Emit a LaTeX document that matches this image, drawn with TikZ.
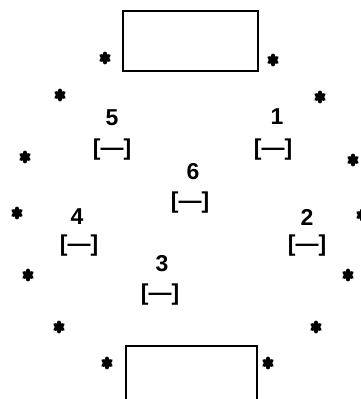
\documentclass[tikz,border=0pt]{standalone}
\usepackage{fontspec}
\setmainfont{Liberation Sans}
\begin{document}
\begin{tikzpicture}[x=1pt,y=-1pt,
  box/.style={draw,line width=2.2pt,inner sep=0pt},
  num/.style={font=\bfseries\fontsize{23}{23}\selectfont,inner sep=0pt},
  brk/.style={font=\bfseries\fontsize{23}{23}\selectfont,inner sep=0pt},
  astr/.pic={\foreach \a in {90,150,210}{\draw[line width=3.6pt,line cap=round] (\a:4.6) -- (\a+180:4.6);}}
]
\useasboundingbox (0,0) rectangle (361,399);
% boxes
\node[box,minimum width=135pt,minimum height=60pt] (top) at (190.5,41) {};
\node[box,minimum width=131pt,minimum height=70pt] (bot) at (191.5,381) {};
% asterisks
\foreach \x/\y [count=\i] in {105/58,273/60,60/95,320/97,25/157,353/160,17/213,362/215,28/275,348/275,59/327,316/327,107/363,268/363}
  \pic at (\x,\y) {astr};
% labels
\node[num] (n5) at (112,118) {5};
\node[brk] (b5) at (112,150) {[—]};
\node[num] (n1) at (277,117) {1};
\node[brk] (b1) at (273,150) {[—]};
\node[num] (n6) at (193,172) {6};
\node[brk] (b6) at (190,203) {[—]};
\node[num] (n4) at (77,217) {4};
\node[brk] (b4) at (79,246) {[—]};
\node[num] (n2) at (307,217) {2};
\node[brk] (b2) at (307,246) {[—]};
\node[num] (n3) at (162,264) {3};
\node[brk] (b3) at (160,295) {[—]};
\end{tikzpicture}
\end{document}
